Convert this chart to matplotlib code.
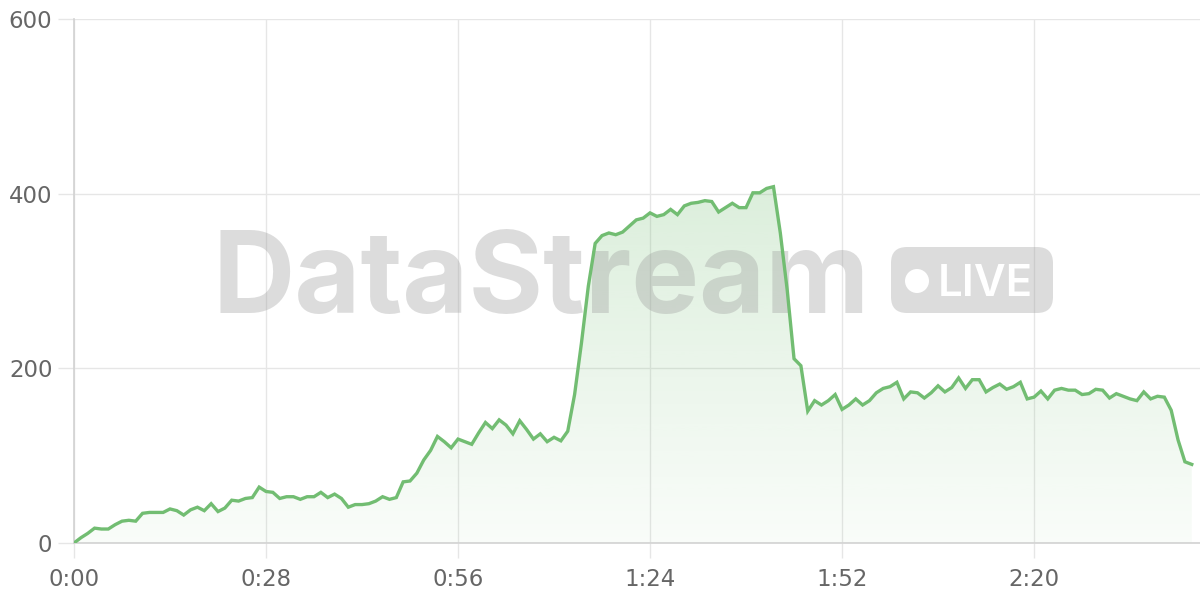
import matplotlib
matplotlib.use("Agg")
import matplotlib.pyplot as plt
import numpy as np
from matplotlib.patches import FancyBboxPatch, Circle
from matplotlib.transforms import IdentityTransform

# one sample per second, 0:00 .. 2:43
values = [
    0, 6, 11, 17, 16, 16, 21, 25, 26, 25,
    34, 35, 35, 35, 39, 37, 32, 38, 41, 37,
    45, 36, 40, 49, 48, 51, 52, 64, 59, 58,
    51, 53, 53, 50, 53, 53, 58, 52, 56, 51,
    41, 44, 44, 45, 48, 53, 50, 52, 70, 71,
    80, 95, 106, 122, 116, 109, 119, 116, 113, 126,
    138, 131, 141, 135, 125, 140, 130, 119, 125, 116,
    121, 117, 128, 170, 229, 294, 343, 352, 355, 353,
    356, 363, 370, 372, 378, 374, 376, 382, 376, 386,
    389, 390, 392, 391, 379, 384, 389, 384, 384, 401,
    401, 406, 408, 355, 290, 211, 203, 151, 163, 158,
    163, 170, 153, 158, 165, 158, 163, 172, 177, 179,
    184, 165, 173, 172, 166, 172, 180, 173, 178, 189,
    177, 187, 187, 173, 178, 182, 176, 179, 184, 165,
    167, 174, 165, 175, 177, 175, 175, 170, 171, 176,
    175, 166, 171, 168, 165, 163, 173, 165, 168, 167,
    152, 118, 93, 90,
]
seconds = list(range(len(values)))

x_ticks = [0, 28, 56, 84, 112, 140]
x_tick_labels = ["0:00", "0:28", "0:56", "1:24", "1:52", "2:20"]
y_ticks = [0, 200, 400, 600]
y_tick_labels = ["0", "200", "400", "600"]

LINE = "#72bd72"
GRID = "#e6e6e6"
TEXT = "#666666"

fig = plt.figure(figsize=(12, 6), dpi=100)
ax = fig.add_axes([74 / 1200, 57 / 600, 1126 / 1200, 524 / 600])

x = np.array(seconds, dtype=float)
y = np.array(values, dtype=float)

# gradient fill under the line
poly = ax.fill_between(x, y, 0, color="none", lw=0)
top = y.max()
grad = np.linspace(0.04, 0.25, 256).reshape(-1, 1)
rgba = np.zeros((256, 1, 4))
rgba[..., 0] = 0x72 / 255
rgba[..., 1] = 0xbd / 255
rgba[..., 2] = 0x72 / 255
rgba[..., 3] = grad
img = ax.imshow(rgba, extent=[x[0], x[-1], 0, top], origin="lower",
                aspect="auto", zorder=1)
img.set_clip_path(poly.get_paths()[0], transform=ax.transData)

ax.plot(x, y, color=LINE, lw=2.4, solid_joinstyle="miter", zorder=4)

ax.set_xlim(0, 164.2)
ax.set_ylim(0, 600)
ax.set_xticks(x_ticks)
ax.set_xticklabels(x_tick_labels)
ax.set_yticks(y_ticks)
ax.set_yticklabels(y_tick_labels)
ax.grid(True, color=GRID, lw=1, zorder=0)
ax.set_axisbelow(True)

for side in ["top", "right"]:
    ax.spines[side].set_visible(False)
for side in ["left", "bottom"]:
    ax.spines[side].set_color("#d2d2d2")
    ax.spines[side].set_linewidth(1.2)

ax.tick_params(axis="x", length=11, width=1, color=GRID, pad=7,
               labelsize=16.5, labelcolor=TEXT)
ax.tick_params(axis="y", length=11.5, width=1, color=GRID, pad=4,
               labelsize=16.5, labelcolor=TEXT)

# watermark (pixel coordinates, between fill and line)
px = IdentityTransform()
wm_color = "#9a9a9a"
wm_alpha = 0.34
t = ax.text(212, 287.5, "DataStream", transform=px, clip_on=False,
            fontsize=80, fontweight="bold", family="Inter",
            color=wm_color, alpha=wm_alpha, ha="left", va="baseline", zorder=3)
fig.canvas.draw()
bb = t.get_window_extent()
t.set_fontsize(80 * 658 / bb.width)

pill = FancyBboxPatch((891, 287), 162, 66, boxstyle="round,pad=0,rounding_size=16",
                      transform=px, facecolor=wm_color, clip_on=False,
                      alpha=wm_alpha, edgecolor="none", zorder=3)
ax.add_artist(pill)
ax.add_artist(Circle((917, 319), 12, transform=px, clip_on=False,
                     facecolor="white", edgecolor="none", zorder=3.1))
lv = ax.text(938, 304.5, "LIVE", transform=px, clip_on=False,
             fontsize=32, family="Inter", fontweight="semibold", color="white",
             ha="left", va="baseline", zorder=3.1)
fig.canvas.draw()
bb = lv.get_window_extent()
lv.set_fontsize(32 * 95 / bb.width)

fig.savefig("out.png", dpi=100)
